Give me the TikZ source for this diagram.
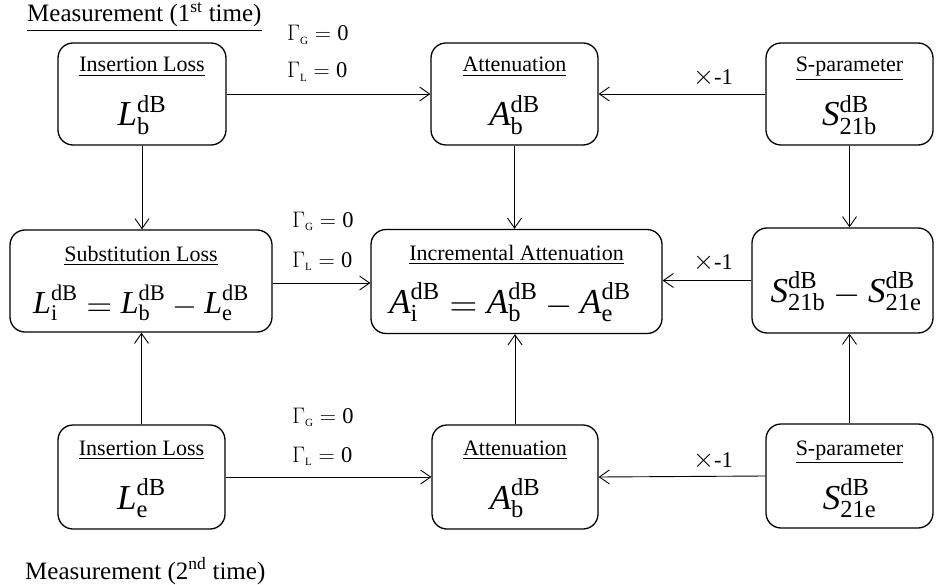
\RequirePackage{fix-cm}
\documentclass[tikz,border=0pt]{standalone}
\usepackage[no-math]{fontspec}
\setmainfont{Liberation Serif}
\usepackage{amsmath}
\usepackage{graphicx}
\usetikzlibrary{arrows.meta}
\newcommand{\sy}[2]{\text{\itshape #1}^{\text{dB}}_{\text{#2}}}
\newcommand{\symb}[2]{$\sy{#1}{#2}$}
\newcommand{\myeq}{\mathrel{\raisebox{-0.1em}{\scalebox{1.1}{$=$}}}}
\newcommand{\mymin}{\mathbin{\raisebox{-0.07em}{$-$}}}
\newcommand{\gam}[1]{$\Gamma_{\mbox{\fontsize{11}{11}\selectfont #1}} = \text{0}$}
\newcommand{\tms}{{\fontsize{27}{27}\selectfont$\times$}}
\begin{document}
\begin{tikzpicture}[x=1pt,y=-1pt,
  box/.style={draw,rounded corners=15pt,line width=1.3pt,inner sep=0pt},
  arr/.style={-{Straight Barb[length=10pt,width=14pt]},line width=0.9pt},
  lbl/.style={font=\fontsize{22}{22}\selectfont,anchor=base,inner sep=0pt},
  sym/.style={font=\fontsize{35}{35}\selectfont,anchor=base,inner sep=0pt},
  gl/.style={font=\fontsize{22.5}{22.5}\selectfont,anchor=base west,inner sep=0pt},
  ttl/.style={font=\fontsize{25}{25}\selectfont,anchor=base west,inner sep=0pt}]
\useasboundingbox (0,0) rectangle (941,585);
% boxes
\node[box,minimum width=168pt,minimum height=102pt] (Lb) at (142,94) {};
\node[box,minimum width=167pt,minimum height=102pt] (At) at (514.5,94) {};
\node[box,minimum width=167pt,minimum height=102pt] (Sb) at (849.5,94) {};
\node[box,minimum width=262pt,minimum height=102pt] (Sub) at (141,281) {};
\node[box,minimum width=291pt,minimum height=104pt] (Inc) at (516.5,281.5) {};
\node[box,minimum width=181pt,minimum height=105pt] (Rm) at (842.5,280.5) {};
\node[box,minimum width=167pt,minimum height=104pt] (Le) at (141.5,477) {};
\node[box,minimum width=166pt,minimum height=104pt] (Ab) at (515,477) {};
\node[box,minimum width=167pt,minimum height=104pt] (Se) at (849.5,476) {};
% texts
\node[lbl] (tLb) at (142,72) {\underline{Insertion Loss}};
\node[sym] (sLb) at (142,126) {\symb{L}{b}};
\node[lbl] (tAt) at (514.5,72) {\underline{Attenuation}};
\node[sym] (sAt) at (514.5,126) {\symb{A}{b}};
\node[lbl] (tSb) at (849.5,72) {\underline{S-parameter}};
\node[sym] (sSb) at (849.5,126) {\symb{S}{21b}};
\node[lbl] (tSub) at (141,261) {\underline{Substitution Loss}};
\node[sym,font=\fontsize{32}{32}\selectfont] (sSub) at (141,313) {$\sy{L}{i}\myeq\sy{L}{b}\mymin\sy{L}{e}$};
\node[lbl] (tInc) at (516.5,260) {\underline{Incremental Attenuation}};
\node[sym] (sInc) at (510,313) {$\sy{A}{i}\myeq\sy{A}{b}\mymin\sy{A}{e}$};
\node[sym] (sRm) at (846,302) {$\sy{S}{21b}\mymin\sy{S}{21e}$};
\node[lbl] (tLe) at (141.5,455) {\underline{Insertion Loss}};
\node[sym] (sLe) at (141.5,509) {\symb{L}{e}};
\node[lbl] (tAb) at (515,455) {\underline{Attenuation}};
\node[sym] (sAb) at (515,509) {\symb{A}{b}};
\node[lbl] (tSe) at (849.5,455) {\underline{S-parameter}};
\node[sym] (sSe) at (849.5,509) {\symb{S}{21e}};
% titles
\node[ttl] (m1) at (27,22) {\underline{Measurement (1\textsuperscript{st} time)}};
\node[ttl] (m2) at (25,579) {\underline{Measurement (2\textsuperscript{nd} time)}};
% gamma labels
\node[gl] (g1) at (287,41) {\gam{G}};
\node[gl] (g2) at (287,78) {\gam{L}};
\node[gl] (g3) at (292,227) {\gam{G}};
\node[gl] (g4) at (292,267) {\gam{L}};
\node[gl] (g5) at (292,423) {\gam{G}};
\node[gl] (g6) at (292,462) {\gam{L}};
% x-1 labels
\node[gl] (x1) at (693,85) {\tms-1};
\node[gl] (x2) at (693,269) {\tms-1};
\node[gl] (x3) at (693,467) {\tms-1};
% arrows
\draw[arr] (Lb.east) -- (At.west);
\draw[arr] (Sb.west) -- (At.east);
\draw[arr] (Lb.south) -- (Lb.south |- Sub.north);
\draw[arr] (At.south) -- (At.south |- Inc.north);
\draw[arr] (Sb.south) -- (Sb.south |- Rm.north);
\draw[arr] (Sub.east |- 0,283) -- (Inc.west |- 0,283);
\draw[arr] (Rm.west) -- (Inc.east |- Rm.west);
\draw[arr] (Le.north) -- (Le.north |- Sub.south);
\draw[arr] (Ab.north) -- (Ab.north |- Inc.south);
\draw[arr] (Se.north) -- (Se.north |- Rm.south);
\draw[arr] (Le.east) -- (Ab.west);
\draw[arr] (Se.west) -- (Ab.east);
\end{tikzpicture}
\end{document}
